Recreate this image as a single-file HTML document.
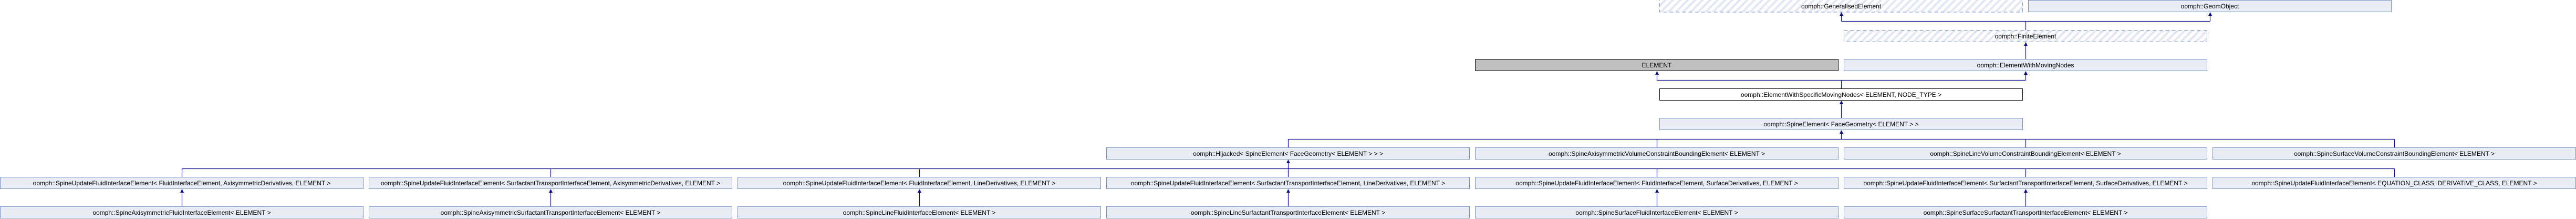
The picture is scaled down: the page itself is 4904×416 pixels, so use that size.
<!DOCTYPE html>
<html><head><meta charset="utf-8"><style>
html,body{margin:0;padding:0;background:#fff;width:4904px;height:416px;overflow:hidden}
svg{display:block}
text{font-family:"Liberation Sans",Arial,sans-serif;font-size:12px;fill:#000;text-anchor:middle}
.b{fill:#e8ecf5;stroke:#7b93c9;stroke-width:1}
.h{fill:url(#hatch);stroke:#7b93c9;stroke-width:1;stroke-dasharray:7,5}
.l{stroke:#0a0a8a;stroke-width:1.2;fill:none}
.a{fill:#0a0a8a}
</style></head><body>
<svg width="4904" height="416" viewBox="0 0 4904 416" xmlns="http://www.w3.org/2000/svg">
<defs>
<pattern id="hatch" patternUnits="userSpaceOnUse" width="10" height="10" patternTransform="rotate(45)">
<rect width="10" height="10" fill="#fff"/>
<rect width="4" height="10" fill="#e2e7f3"/>
</pattern>
</defs>

<!-- row 1 -->
<rect class="h" x="3159.5" y="-1" width="691" height="24"/>
<text x="3505" y="16">oomph::GeneralisedElement</text>
<rect class="b" x="3861.5" y="0.5" width="691" height="22"/>
<text x="4207" y="16">oomph::GeomObject</text>

<!-- row 2 -->
<rect class="h" x="3510.5" y="57.5" width="691" height="22"/>
<text x="3856" y="73">oomph::FiniteElement</text>

<!-- row 3 -->
<rect x="2808.5" y="112.5" width="691" height="22" fill="#bfbfbf" stroke="#000"/>
<text x="3154" y="128">ELEMENT</text>
<rect class="b" x="3510.5" y="112.5" width="691" height="22"/>
<text x="3856" y="128">oomph::ElementWithMovingNodes</text>

<!-- row 4 -->
<rect x="3159.5" y="168.5" width="691" height="22" fill="#fff" stroke="#000"/>
<text x="3505" y="184">oomph::ElementWithSpecificMovingNodes&lt; ELEMENT, NODE_TYPE &gt;</text>

<!-- row 5 -->
<rect class="b" x="3159.5" y="224.5" width="691" height="22"/>
<text x="3505" y="240">oomph::SpineElement&lt; FaceGeometry&lt; ELEMENT &gt; &gt;</text>

<!-- row 6 -->
<rect class="b" x="2106.5" y="280.5" width="691" height="22"/>
<text x="2452" y="296">oomph::Hijacked&lt; SpineElement&lt; FaceGeometry&lt; ELEMENT &gt; &gt; &gt;</text>
<rect class="b" x="2808.5" y="280.5" width="691" height="22"/>
<text x="3154" y="296">oomph::SpineAxisymmetricVolumeConstraintBoundingElement&lt; ELEMENT &gt;</text>
<rect class="b" x="3510.5" y="280.5" width="691" height="22"/>
<text x="3856" y="296">oomph::SpineLineVolumeConstraintBoundingElement&lt; ELEMENT &gt;</text>
<rect class="b" x="4212.5" y="280.5" width="691" height="22"/>
<text x="4558" y="296">oomph::SpineSurfaceVolumeConstraintBoundingElement&lt; ELEMENT &gt;</text>

<!-- row 7 -->
<rect class="b" x="0.5" y="336.5" width="691" height="22"/>
<text x="346" y="352">oomph::SpineUpdateFluidInterfaceElement&lt; FluidInterfaceElement, AxisymmetricDerivatives, ELEMENT &gt;</text>
<rect class="b" x="702.5" y="336.5" width="691" height="22"/>
<text x="1048" y="352">oomph::SpineUpdateFluidInterfaceElement&lt; SurfactantTransportInterfaceElement, AxisymmetricDerivatives, ELEMENT &gt;</text>
<rect class="b" x="1404.5" y="336.5" width="691" height="22"/>
<text x="1750" y="352">oomph::SpineUpdateFluidInterfaceElement&lt; FluidInterfaceElement, LineDerivatives, ELEMENT &gt;</text>
<rect class="b" x="2106.5" y="336.5" width="691" height="22"/>
<text x="2452" y="352">oomph::SpineUpdateFluidInterfaceElement&lt; SurfactantTransportInterfaceElement, LineDerivatives, ELEMENT &gt;</text>
<rect class="b" x="2808.5" y="336.5" width="691" height="22"/>
<text x="3154" y="352">oomph::SpineUpdateFluidInterfaceElement&lt; FluidInterfaceElement, SurfaceDerivatives, ELEMENT &gt;</text>
<rect class="b" x="3510.5" y="336.5" width="691" height="22"/>
<text x="3856" y="352">oomph::SpineUpdateFluidInterfaceElement&lt; SurfactantTransportInterfaceElement, SurfaceDerivatives, ELEMENT &gt;</text>
<rect class="b" x="4212.5" y="336.5" width="691" height="22"/>
<text x="4558" y="352">oomph::SpineUpdateFluidInterfaceElement&lt; EQUATION_CLASS, DERIVATIVE_CLASS, ELEMENT &gt;</text>

<!-- row 8 -->
<rect class="b" x="0.5" y="392.5" width="691" height="22"/>
<text x="346" y="408">oomph::SpineAxisymmetricFluidInterfaceElement&lt; ELEMENT &gt;</text>
<rect class="b" x="702.5" y="392.5" width="691" height="22"/>
<text x="1048" y="408">oomph::SpineAxisymmetricSurfactantTransportInterfaceElement&lt; ELEMENT &gt;</text>
<rect class="b" x="1404.5" y="392.5" width="691" height="22"/>
<text x="1750" y="408">oomph::SpineLineFluidInterfaceElement&lt; ELEMENT &gt;</text>
<rect class="b" x="2106.5" y="392.5" width="691" height="22"/>
<text x="2452" y="408">oomph::SpineLineSurfactantTransportInterfaceElement&lt; ELEMENT &gt;</text>
<rect class="b" x="2808.5" y="392.5" width="691" height="22"/>
<text x="3154" y="408">oomph::SpineSurfaceFluidInterfaceElement&lt; ELEMENT &gt;</text>
<rect class="b" x="3510.5" y="392.5" width="691" height="22"/>
<text x="3856" y="408">oomph::SpineSurfaceSurfactantTransportInterfaceElement&lt; ELEMENT &gt;</text>

<!-- connectors -->
<path class="l" d="M3505.5 40.5H4207.5 M3505.5 40.5V28 M4207.5 40.5V28 M3856.5 40.5V57"/>
<path class="l" d="M3856.5 112V85"/>
<path class="l" d="M3154.5 152.5H3856.5 M3154.5 152.5V140 M3856.5 152.5V140 M3505.5 152.5V168"/>
<path class="l" d="M3505.5 224V196"/>
<path class="l" d="M3505.5 264.5V252 M2452.5 264.5H4558.5 M2452.5 264.5V280 M3154.5 264.5V280 M3856.5 264.5V280 M4558.5 264.5V280"/>
<path class="l" d="M2452.5 320.5V308 M346.5 320.5H4558.5 M346.5 320.5V336 M1048.5 320.5V336 M1750.5 320.5V336 M2452.5 320.5V336 M3154.5 320.5V336 M3856.5 320.5V336 M4558.5 320.5V336"/>
<path class="l" d="M346.5 392V364 M1048.5 392V364 M1750.5 392V364 M2452.5 392V364 M3154.5 392V364 M3856.5 392V364"/>

<!-- arrowheads -->
<g class="a">
<polygon points="3505.5,23 3502,30 3509,30"/>
<polygon points="4207.5,23 4204,30 4211,30"/>
<polygon points="3856.5,80 3853,87 3860,87"/>
<polygon points="3154.5,135 3151,142 3158,142"/>
<polygon points="3856.5,135 3853,142 3860,142"/>
<polygon points="3505.5,191 3502,198 3509,198"/>
<polygon points="3505.5,247 3502,254 3509,254"/>
<polygon points="2452.5,303 2449,310 2456,310"/>
<polygon points="346.5,359 343,366 350,366"/>
<polygon points="1048.5,359 1045,366 1052,366"/>
<polygon points="1750.5,359 1747,366 1754,366"/>
<polygon points="2452.5,359 2449,366 2456,366"/>
<polygon points="3154.5,359 3151,366 3158,366"/>
<polygon points="3856.5,359 3853,366 3860,366"/>
</g>
</svg>
</body></html>
